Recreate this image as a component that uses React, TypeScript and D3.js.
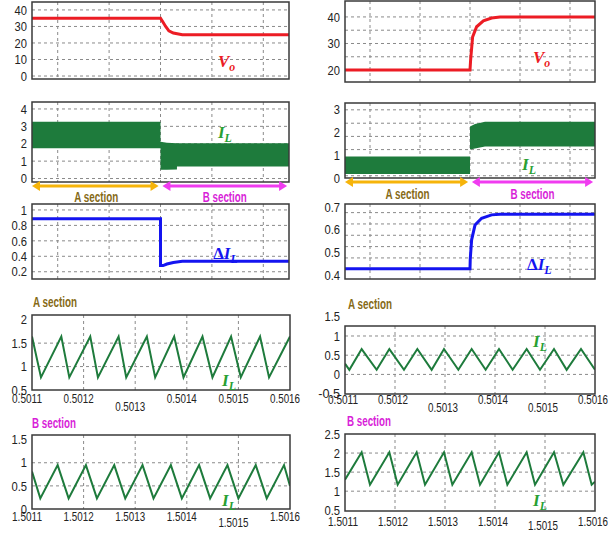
import * as d3 from 'd3';
import type { ReactNode } from 'react';

const W = 611;
const H = 533;
const FONT = "'Liberation Sans', Arial, sans-serif";
const SERIF = "'Liberation Serif', 'DejaVu Serif', serif";

// ---- upper panels, time in s ----
const timeGrid = [0.2, 0.6, 1, 1.4, 1.8];

const voLeftT = [0, 1, 1.02, 1.04, 1.065, 1.1, 1.17, 2];
const voLeftV = [35, 35, 32.5, 30, 27.3, 26, 25, 25];
const voRightT = [0, 1, 1.005, 1.021, 1.053, 1.107, 1.173, 1.24, 2];
const voRightV = [20, 20, 23.8, 32.5, 36.3, 38.5, 39.6, 40, 40];

// inductor current envelope (dense ripple)
const ilLeftT = [0, 1, 1, 1.05, 1.128, 1.128, 2];
const ilLeftHi = [3.27, 3.27, 2.12, 2.05, 2.03, 2.03, 2.03];
const ilLeftLo = [1.74, 1.74, 0.5, 0.5, 0.52, 0.69, 0.69];
const ilRightT = [0, 1, 1, 1.04, 1.12, 2];
const ilRightHi = [0.95, 0.95, 2.27, 2.38, 2.47, 2.47];
const ilRightLo = [0.18, 0.18, 1.25, 1.3, 1.39, 1.39];

const dilLeftT = [0, 1, 1, 1.02, 1.05, 1.1, 1.17, 2];
const dilLeftV = [0.885, 0.885, 0.28, 0.28, 0.3, 0.32, 0.335, 0.335];
const dilRightT = [0, 1, 1.002, 1.013, 1.04, 1.093, 1.173, 1.24, 2];
const dilRightV = [0.427, 0.427, 0.47, 0.555, 0.62, 0.65, 0.665, 0.668, 0.668];

// ---- zoomed ripple, A section ----
const zoomTicksA = [0.5011, 0.5012, 0.5013, 0.5014, 0.5015, 0.5016];
const aLeftT = [0.5011, 0.5011174, 0.5011568, 0.5011723, 0.5012129, 0.5012278, 0.5012678, 0.5012826, 0.5013226, 0.5013387,
  0.5013755, 0.5013936, 0.5014304, 0.5014497, 0.5014858, 0.5015046, 0.501542, 0.5015594, 0.5016];
const aLeftI = [1.64, 0.77, 1.64, 0.77, 1.64, 0.77, 1.64, 0.77, 1.64, 0.77, 1.64, 0.77, 1.64, 0.77, 1.64, 0.77, 1.64, 0.77, 1.64];
const aRightT = [0.5011, 0.5011087, 0.5011333, 0.5011633, 0.5011887, 0.501218, 0.5012447, 0.5012733, 0.501298, 0.5013267,
  0.5013533, 0.5013813, 0.501408, 0.5014353, 0.5014633, 0.50149, 0.501518, 0.5015433, 0.501572, 0.5016];
const aRightI = [0.28, 0.12, 0.66, 0.12, 0.66, 0.12, 0.66, 0.12, 0.66, 0.12, 0.66, 0.12, 0.66, 0.12, 0.66, 0.12, 0.66, 0.12, 0.66, 0.12];

// ---- zoomed ripple, B section ----
const zoomTicksB = [1.5011, 1.5012, 1.5013, 1.5014, 1.5015, 1.5016];
const bLeftT = [1.5011, 1.5011161, 1.5011497, 1.501171, 1.5012045, 1.5012258, 1.5012594, 1.5012807, 1.5013142, 1.5013355,
  1.5013691, 1.5013904, 1.5014239, 1.5014452, 1.5014788, 1.5015, 1.5015336, 1.5015549, 1.5015884, 1.5016];
const bLeftI = [0.81, 0.23, 0.95, 0.23, 0.95, 0.23, 0.95, 0.23, 0.95, 0.23, 0.95, 0.23, 0.95, 0.23, 0.95, 0.23, 0.95, 0.23, 0.95, 0.5];
const bRightT = [1.5011, 1.5011333, 1.50115, 1.5011887, 1.5012053, 1.5012433, 1.50126, 1.501298, 1.5013147, 1.5013533,
  1.50137, 1.501408, 1.5014247, 1.5014633, 1.50148, 1.501518, 1.5015367, 1.5015767, 1.5015933, 1.5016];
const bRightI = [1.3, 2.02, 1.17, 2.02, 1.17, 2.02, 1.17, 2.02, 1.17, 2.02, 1.17, 2.02, 1.17, 2.02, 1.17, 2.02, 1.17, 2.02, 1.17, 1.25];

const RED = '#ec1c24';
const BLUE = '#1414f0';
const GREEN = '#1e7b3c';
const LABEL_GREEN = '#28a032';
const AMBER = '#f6b40a';
const GOLD_TEXT = '#866a16';
const MAGENTA = '#f03cf0';
const MAGENTA_TEXT = '#d81ed8';

interface PanelSpec {
  id: string;
  box: [number, number, number, number]; // x0, x1, y0, y1
  xDomain: [number, number];
  yDomain: [number, number];
  xGrid: number[];
  yGrid: number[];
  yTicks: number[];
  xTicks?: number[];
  xLabelShift?: number;
  xLabelDrop?: number;
  xLowered?: number[];
  lowerBy?: number;
}

type Scale = d3.ScaleLinear<number, number>;

function Panel({ spec, children }: { spec: PanelSpec; children: (x: Scale, y: Scale) => ReactNode }) {
  const [x0, x1, y0, y1] = spec.box;
  const x = d3.scaleLinear().domain(spec.xDomain).range([x0, x1]);
  const y = d3.scaleLinear().domain(spec.yDomain).range([y1, y0]);
  const drop = spec.xLabelDrop ?? 12;
  return (
    <g>
      <clipPath id={spec.id}>
        <rect x={x0} y={y0} width={x1 - x0} height={y1 - y0} />
      </clipPath>
      <rect x={x0} y={y0} width={x1 - x0} height={y1 - y0} fill="#fff" />
      {spec.xGrid.map(v => (
        <line key={'gx' + v} x1={x(v)} x2={x(v)} y1={y0} y2={y1} stroke="#8a8a8a" strokeWidth={1} strokeDasharray="3,3" />
      ))}
      {spec.yGrid.map(v => (
        <line key={'gy' + v} x1={x0} x2={x1} y1={y(v)} y2={y(v)} stroke="#8a8a8a" strokeWidth={1} strokeDasharray="3,3" />
      ))}
      <g clipPath={`url(#${spec.id})`}>{children(x, y)}</g>
      <rect x={x0} y={y0} width={x1 - x0} height={y1 - y0} fill="none" stroke="#3a3a3a" strokeWidth={1.5} />
      {spec.yTicks.map(v => {
        const s = String(v);
        return (
          <text key={'ty' + v} x={x0 - 5} y={y(v)} dy="0.36em" textAnchor="end" fontSize={13} fill="#222"
            textLength={s.length * 6.2 - (s.includes('.') ? 3 : 0)} lengthAdjust="spacingAndGlyphs">
            {s}
          </text>
        );
      })}
      {spec.xTicks && spec.xTicks.map(v => (
        <text key={'tx' + v} x={x(v) + (spec.xLabelShift ?? 0)}
          y={y1 + drop + (spec.xLowered && spec.xLowered.includes(v) ? (spec.lowerBy ?? 8) : 0)}
          textAnchor="middle" fontSize={13} fill="#222" textLength={30} lengthAdjust="spacingAndGlyphs">
          {d3.format('.4f')(v)}
        </text>
      ))}
    </g>
  );
}

function linePath(ts: number[], vs: number[], x: Scale, y: Scale) {
  return d3.line<number>().x(i => x(ts[i])).y(i => y(vs[i]))(d3.range(ts.length)) || '';
}

function areaPath(ts: number[], hi: number[], lo: number[], x: Scale, y: Scale) {
  return d3.area<number>().x(i => x(ts[i])).y0(i => y(lo[i])).y1(i => y(hi[i]))(d3.range(ts.length)) || '';
}

function SubLabel({ x, y, pre, main, sub, color, size = 17 }:
  { x: number; y: number; pre?: string; main: string; sub: string; color: string; size?: number }) {
  return (
    <text x={x} y={y} fill={color} fontFamily={SERIF} fontStyle="italic" fontWeight="bold" fontSize={size}>
      {pre && <tspan fontStyle="normal">{pre}</tspan>}
      <tspan>{main}</tspan>
      <tspan fontSize={size * 0.7} dy={size * 0.22}>{sub}</tspan>
    </text>
  );
}

function SectionText({ x, y, text, color, anchor = 'middle' }:
  { x: number; y: number; text: string; color: string; anchor?: string }) {
  return (
    <text x={x} y={y} textAnchor={anchor} fontSize={14} fontWeight="bold" fill={color}
      textLength={44} lengthAdjust="spacingAndGlyphs">{text}</text>
  );
}

function SectionArrows({ x, yArrow, yText }: { x: Scale; yArrow: number; yText: number }) {
  const head = (from: number, dir: number) => {
    const px = x(from);
    return `M${px},${yArrow} L${px + dir * 8},${yArrow - 5} L${px + dir * 8},${yArrow + 5} Z`;
  };
  const seg = (a: number, b: number, color: string) => (
    <g>
      <line x1={x(a) + 6} x2={x(b) - 6} y1={yArrow} y2={yArrow} stroke={color} strokeWidth={3} />
      <path d={head(a, 1)} fill={color} />
      <path d={head(b, -1)} fill={color} />
    </g>
  );
  return (
    <g>
      {seg(0, 0.985, AMBER)}
      {seg(1.015, 1.985, MAGENTA)}
      <SectionText x={x(0.5)} y={yText} text="A section" color={GOLD_TEXT} />
      <SectionText x={x(1.5)} y={yText} text="B section" color={MAGENTA_TEXT} />
    </g>
  );
}

const LX: [number, number] = [32, 289];
const RX: [number, number] = [345, 595];

const panels = {
  voL: { id: 'c1', box: [...LX, 2, 79], xDomain: [0, 2], yDomain: [-1.8, 44.8], xGrid: timeGrid, yGrid: [0, 10, 20, 30, 40], yTicks: [0, 10, 20, 30, 40] },
  voR: { id: 'c2', box: [...RX, 1, 82], xDomain: [0, 2], yDomain: [15.5, 46], xGrid: timeGrid, yGrid: [20, 25, 30, 35, 40], yTicks: [20, 30, 40] },
  ilL: { id: 'c3', box: [...LX, 102, 182], xDomain: [0, 2], yDomain: [-0.2, 4.4], xGrid: timeGrid, yGrid: [0, 1, 2, 3, 4], yTicks: [0, 1, 2, 3, 4] },
  ilR: { id: 'c4', box: [...RX, 103, 178], xDomain: [0, 2], yDomain: [0, 3.3], xGrid: timeGrid, yGrid: [0.1, 0.66, 1.25, 1.83, 2.41, 3], yTicks: [0, 1, 2, 3] },
  dL: { id: 'c5', box: [...LX, 204, 279], xDomain: [0, 2], yDomain: [0.106, 1.077], xGrid: timeGrid, yGrid: [0.2, 0.4, 0.6, 0.8, 1], yTicks: [0.2, 0.4, 0.6, 0.8, 1] },
  dR: { id: 'c6', box: [...RX, 204, 279], xDomain: [0, 2], yDomain: [0.382, 0.713], xGrid: timeGrid, yGrid: [0.425, 0.475, 0.525, 0.575, 0.625, 0.675], yTicks: [0.4, 0.5, 0.6, 0.7] },
  aL: { id: 'c7', box: [32, 290, 315, 390], xDomain: [0.5011, 0.5016], yDomain: [0.5, 2.1], xGrid: zoomTicksA.slice(1, 5), yGrid: [1, 1.5], yTicks: [0.5, 1, 1.5, 2], xTicks: zoomTicksA, xLabelShift: -5, xLabelDrop: 13, xLowered: [0.5013], lowerBy: 8 },
  aR: { id: 'c8', box: [...RX, 326, 394], xDomain: [0.5011, 0.5016], yDomain: [-0.51, 1.26], xGrid: zoomTicksA.slice(1, 5), yGrid: [0, 0.5, 1], yTicks: [-0.5, 0, 0.5, 1, 1.5], xTicks: zoomTicksA, xLabelShift: -2, xLabelDrop: 10, xLowered: [0.5013, 0.5015], lowerBy: 8 },
  bL: { id: 'c9', box: [32, 290, 435, 509], xDomain: [1.5011, 1.5016], yDomain: [0, 1.6], xGrid: zoomTicksB.slice(1, 5), yGrid: [0.5, 1], yTicks: [0, 0.5, 1, 1.5], xTicks: zoomTicksB, xLabelShift: -5, xLabelDrop: 12, xLowered: [1.5015], lowerBy: 6 },
  bR: { id: 'c10', box: [...RX, 434, 511], xDomain: [1.5011, 1.5016], yDomain: [0.48, 2.5], xGrid: zoomTicksB.slice(1, 5), yGrid: [1, 1.5, 2], yTicks: [0.5, 1, 1.5, 2, 2.5], xTicks: zoomTicksB, xLabelShift: -2, xLabelDrop: 15, xLowered: [1.5015], lowerBy: 4 },
} as Record<string, PanelSpec>;

export default function App() {
  const topL = d3.scaleLinear().domain([0, 2]).range(LX);
  const topR = d3.scaleLinear().domain([0, 2]).range(RX);
  return (
    <svg width={W} height={H} style={{ position: 'absolute', left: 0, top: 0, background: '#fff' }} fontFamily={FONT}>
      <rect width={W} height={H} fill="#fff" />

      <Panel spec={panels.voL}>
        {(x, y) => <path d={linePath(voLeftT, voLeftV, x, y)} fill="none" stroke={RED} strokeWidth={3} />}
      </Panel>
      <Panel spec={panels.voR}>
        {(x, y) => <path d={linePath(voRightT, voRightV, x, y)} fill="none" stroke={RED} strokeWidth={3} />}
      </Panel>

      <Panel spec={panels.ilL}>
        {(x, y) => <path d={areaPath(ilLeftT, ilLeftHi, ilLeftLo, x, y)} fill={GREEN} />}
      </Panel>
      <Panel spec={panels.ilR}>
        {(x, y) => <path d={areaPath(ilRightT, ilRightHi, ilRightLo, x, y)} fill={GREEN} />}
      </Panel>

      <Panel spec={panels.dL}>
        {(x, y) => <path d={linePath(dilLeftT, dilLeftV, x, y)} fill="none" stroke={BLUE} strokeWidth={3} />}
      </Panel>
      <Panel spec={panels.dR}>
        {(x, y) => <path d={linePath(dilRightT, dilRightV, x, y)} fill="none" stroke={BLUE} strokeWidth={3} />}
      </Panel>

      <Panel spec={panels.aL}>
        {(x, y) => <path d={linePath(aLeftT, aLeftI, x, y)} fill="none" stroke={GREEN} strokeWidth={2} />}
      </Panel>
      <Panel spec={panels.aR}>
        {(x, y) => <path d={linePath(aRightT, aRightI, x, y)} fill="none" stroke={GREEN} strokeWidth={2} />}
      </Panel>
      <Panel spec={panels.bL}>
        {(x, y) => <path d={linePath(bLeftT, bLeftI, x, y)} fill="none" stroke={GREEN} strokeWidth={2} />}
      </Panel>
      <Panel spec={panels.bR}>
        {(x, y) => <path d={linePath(bRightT, bRightI, x, y)} fill="none" stroke={GREEN} strokeWidth={2} />}
      </Panel>

      {/* series labels */}
      <SubLabel x={topL(1.447)} y={67} main="V" sub="o" color={RED} />
      <SubLabel x={topR(1.504)} y={63} main="V" sub="o" color={RED} />
      <SubLabel x={topL(1.447)} y={138} main="I" sub="L" color={LABEL_GREEN} />
      <SubLabel x={topR(1.416)} y={170} main="I" sub="L" color={LABEL_GREEN} />
      <SubLabel x={topL(1.41)} y={259} pre="Δ" main="I" sub="L" color={BLUE} />
      <SubLabel x={topR(1.456)} y={270} pre="Δ" main="I" sub="L" color={BLUE} />
      <SubLabel x={222} y={386} main="I" sub="L" color={LABEL_GREEN} />
      <SubLabel x={533} y={347} main="I" sub="L" color={LABEL_GREEN} />
      <SubLabel x={222} y={506} main="I" sub="L" color={LABEL_GREEN} />
      <SubLabel x={533} y={506} main="I" sub="L" color={LABEL_GREEN} />

      <SectionArrows x={topL} yArrow={186} yText={202} />
      <SectionArrows x={topR} yArrow={182} yText={199} />

      <SectionText x={33} y={307} text="A section" color={GOLD_TEXT} anchor="start" />
      <SectionText x={348} y={309} text="A section" color={GOLD_TEXT} anchor="start" />
      <SectionText x={32} y={428} text="B section" color={MAGENTA_TEXT} anchor="start" />
      <SectionText x={347} y={426} text="B section" color={MAGENTA_TEXT} anchor="start" />
    </svg>
  );
}
